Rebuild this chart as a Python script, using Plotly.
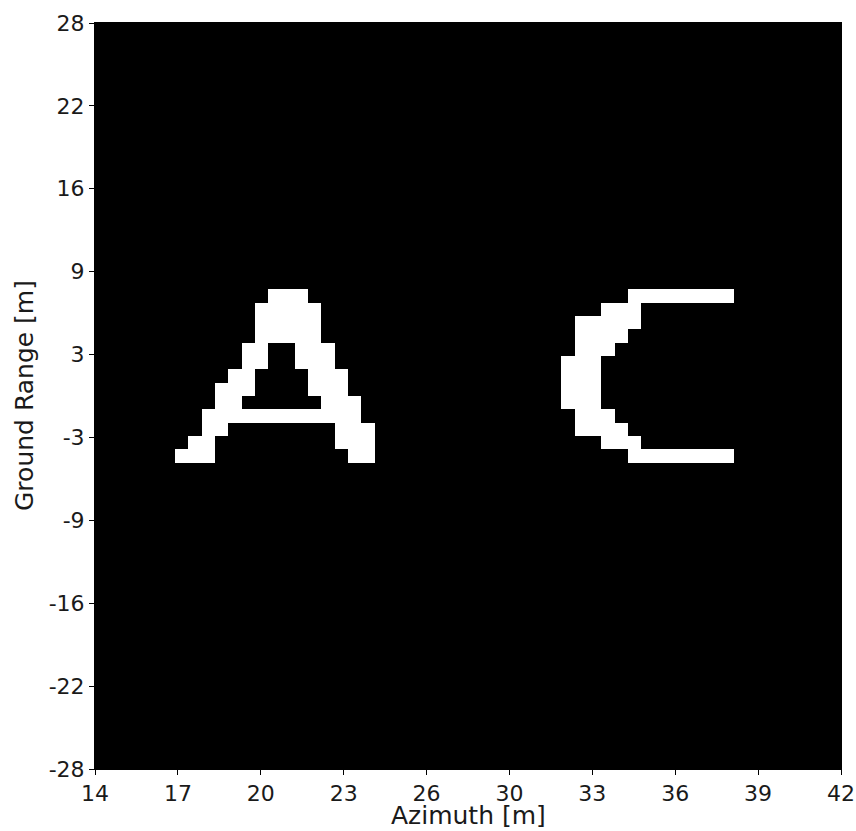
import numpy as np
import plotly.graph_objects as go

# Grid definition (56 x 56 cells)
n_cols = 56
n_rows = 56
x_min, x_max = 14.0, 42.0
y_min, y_max = -28.0, 28.0

# White cells as runs: (row from top, first col, last col)
letter_A_runs = [
    (20, 13, 15),
    (21, 12, 16), (22, 12, 16), (23, 12, 16),
    (24, 11, 12), (24, 15, 17),
    (25, 11, 12), (25, 15, 17),
    (26, 10, 11), (26, 16, 18),
    (27, 9, 11), (27, 16, 18),
    (28, 9, 10), (28, 17, 19),
    (29, 8, 19),
    (30, 8, 9), (30, 18, 20),
    (31, 7, 8), (31, 18, 20),
    (32, 6, 8), (32, 19, 20),
]
letter_C_runs = [
    (20, 40, 47),
    (21, 38, 40),
    (22, 36, 40),
    (23, 36, 39),
    (24, 36, 38),
    (25, 35, 37), (26, 35, 37), (27, 35, 37), (28, 35, 37),
    (29, 36, 38),
    (30, 36, 39),
    (31, 38, 40),
    (32, 40, 47),
]

x_tick_labels = ["14", "17", "20", "23", "26", "30", "33", "36", "39", "42"]
y_tick_labels = ["-28", "-22", "-16", "-9", "-3", "3", "9", "16", "22", "28"]
x_title = "Azimuth [m]"
y_title = "Ground Range [m]"

z = np.zeros((n_rows, n_cols))
for r, c0, c1 in letter_A_runs + letter_C_runs:
    z[r, c0:c1 + 1] = 1.0

dx = (x_max - x_min) / n_cols
dy = (y_max - y_min) / n_rows
x_centers = x_min + dx * (np.arange(n_cols) + 0.5)
y_centers = y_max - dy * (np.arange(n_rows) + 0.5)

fig = go.Figure(go.Heatmap(
    z=z, x=x_centers, y=y_centers,
    colorscale=[[0, "black"], [1, "white"]],
    zmin=0, zmax=1, showscale=False, zsmooth=False,
    hoverinfo="skip",
))

txt_color = "#1a1a1a"
fig.update_layout(
    width=856, height=831,
    margin=dict(l=95, r=15, t=23, b=62),
    paper_bgcolor="white", plot_bgcolor="black",
    font=dict(family="DejaVu Sans", size=22, color=txt_color),
    annotations=[
        dict(text=x_title, xref="paper", yref="paper", x=0.5, y=0,
             xanchor="center", yanchor="middle", yshift=-46.5,
             showarrow=False, borderpad=0,
             font=dict(size=25, color=txt_color)),
        dict(text=y_title, xref="paper", yref="paper", x=0, y=0.5,
             xanchor="center", yanchor="middle", xshift=-71, textangle=-90,
             showarrow=False, borderpad=0,
             font=dict(size=25, color=txt_color)),
    ],
)
fig.update_xaxes(
    range=[x_min, x_max],
    tickvals=np.linspace(x_min, x_max, 10), ticktext=x_tick_labels,
    tickfont=dict(size=22),
    ticks="outside", ticklen=5, tickwidth=1, tickcolor="black",
    showgrid=False, zeroline=False,
    showline=True, linecolor="black", linewidth=1, mirror=True,
    automargin=False,
)
fig.update_yaxes(
    range=[y_min, y_max],
    tickvals=np.linspace(y_min, y_max, 10), ticktext=y_tick_labels,
    tickfont=dict(size=22),
    ticks="outside", ticklen=5, tickwidth=1, tickcolor="black",
    showgrid=False, zeroline=False,
    showline=True, linecolor="black", linewidth=1, mirror=True,
    automargin=False,
)

fig.write_html("out.html")
